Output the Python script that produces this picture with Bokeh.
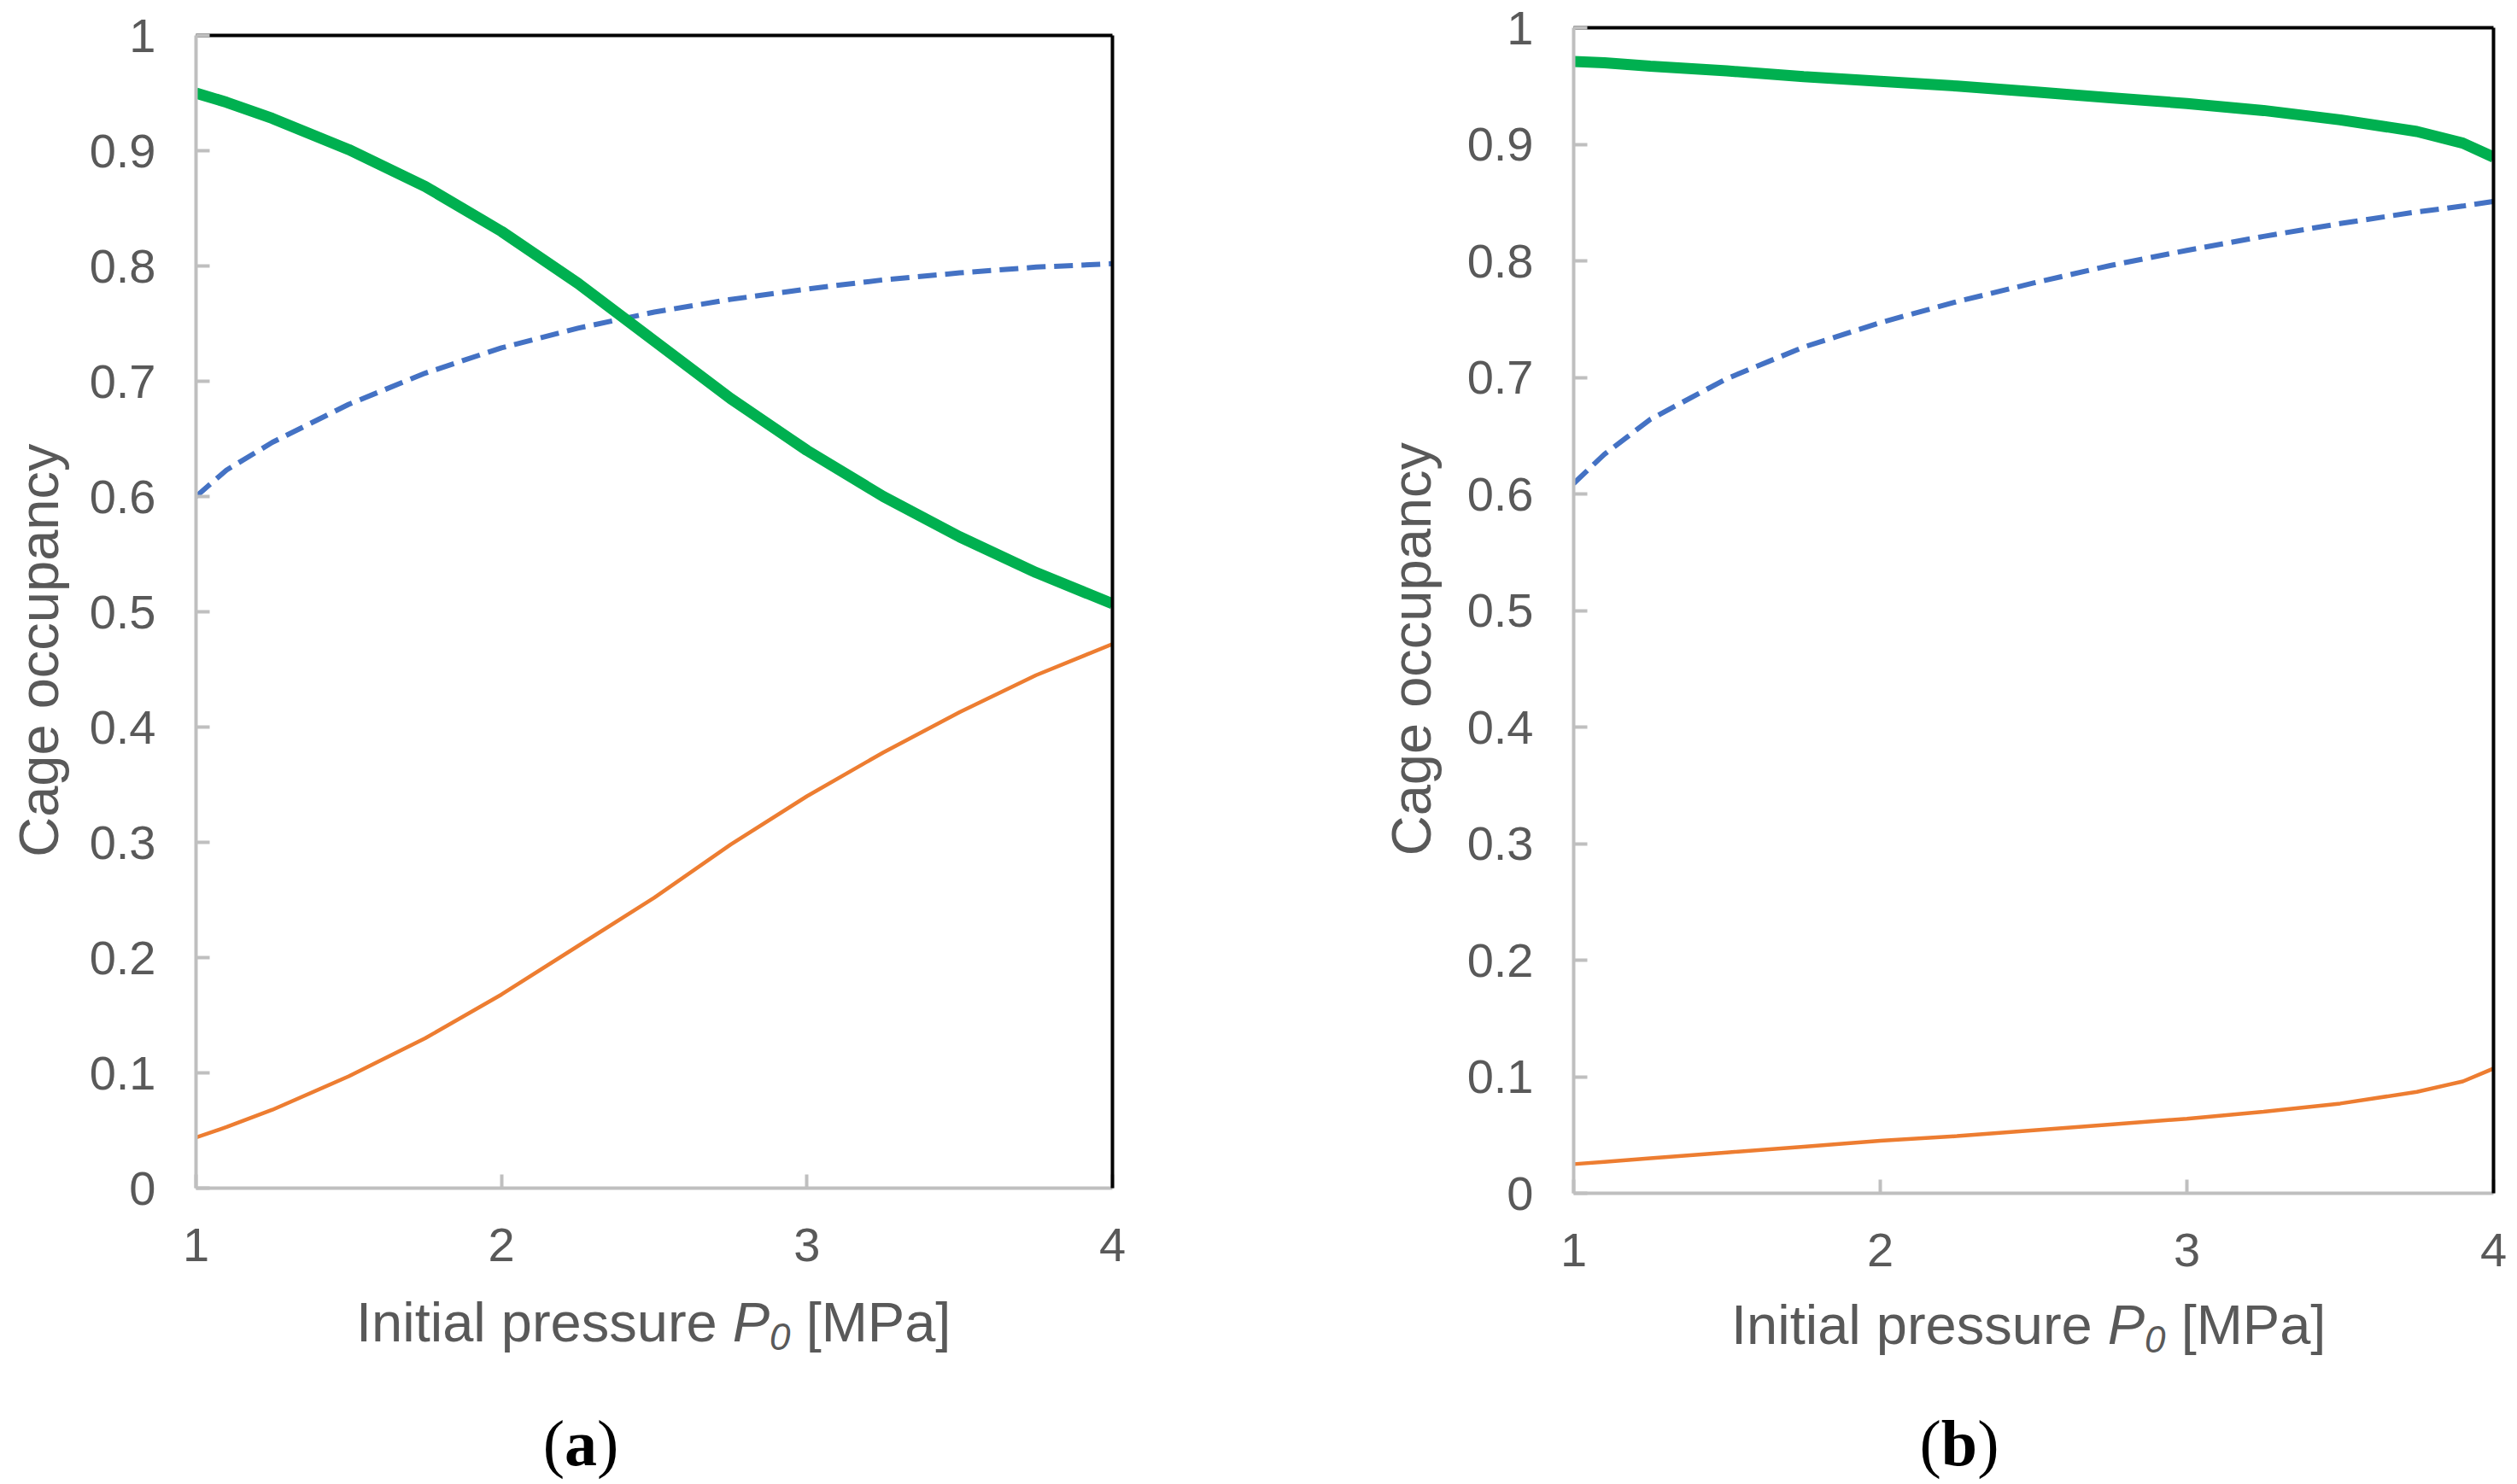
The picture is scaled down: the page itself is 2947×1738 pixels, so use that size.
from bokeh.plotting import figure
from bokeh.layouts import row, column
from bokeh.models import LinearAxis, FixedTicker, Range1d, Div
from bokeh.embed import file_html
from bokeh.resources import INLINE

# pressure grid [MPa] and cage occupancies
p0_a = [1.0, 1.1, 1.25, 1.5, 1.75, 2.0, 2.25, 2.5, 2.75, 3.0, 3.25, 3.5, 3.75, 4.0]
green_a = [0.950, 0.942, 0.928, 0.901, 0.869, 0.830, 0.785, 0.735, 0.685, 0.640, 0.600, 0.565, 0.534, 0.507]
blue_a = [0.600, 0.623, 0.647, 0.680, 0.707, 0.729, 0.746, 0.760, 0.771, 0.780, 0.788, 0.794, 0.799, 0.802]
orange_a = [0.044, 0.053, 0.068, 0.097, 0.130, 0.168, 0.210, 0.252, 0.298, 0.340, 0.378, 0.413, 0.445, 0.472]

p0_b = [1.0, 1.1, 1.25, 1.5, 1.75, 2.0, 2.25, 2.5, 2.75, 3.0, 3.25, 3.5, 3.75, 3.9, 4.0]
green_b = [0.971, 0.970, 0.967, 0.963, 0.958, 0.954, 0.950, 0.945, 0.940, 0.935, 0.929, 0.921, 0.911, 0.901, 0.889]
blue_b = [0.609, 0.634, 0.664, 0.699, 0.726, 0.747, 0.765, 0.781, 0.796, 0.809, 0.821, 0.832, 0.842, 0.847, 0.851]
orange_b = [0.025, 0.027, 0.030, 0.035, 0.040, 0.045, 0.049, 0.054, 0.059, 0.064, 0.070, 0.077, 0.087, 0.096, 0.107]

x_ticks = [1, 2, 3, 4]
y_ticks = [0, 0.1, 0.2, 0.3, 0.4, 0.5, 0.6, 0.7, 0.8, 0.9, 1]
y_tick_labels = ["0", "0.1", "0.2", "0.3", "0.4", "0.5", "0.6", "0.7", "0.8", "0.9", "1"]

GREEN = "#00B050"
BLUE = "#4472C4"
ORANGE = "#ED7D31"
GREY_TEXT = "#595959"
GREY_AXIS = "#BFBFBF"
FONT = "Liberation Sans"


def style_axis(ax):
    ax.axis_line_color = GREY_AXIS
    ax.axis_line_width = 4
    ax.major_tick_line_color = GREY_AXIS
    ax.major_tick_line_width = 4
    ax.major_tick_in = 16
    ax.major_tick_out = 0
    ax.minor_tick_line_color = None
    ax.major_label_text_font = FONT
    ax.major_label_text_font_size = "56px"
    ax.major_label_text_color = GREY_TEXT


def border_axis(p, side):
    ax = LinearAxis(ticker=FixedTicker(ticks=[]))
    ax.axis_line_color = "black"
    ax.axis_line_width = 4
    ax.major_tick_line_color = None
    ax.minor_tick_line_color = None
    p.add_layout(ax, side)


def caption(width, height, title_left, title_top, tag_center, tag_top, letter):
    # x-axis title (italic P, subscript 0) and the panel tag, as html text
    html = (
        f'<div style="position:relative;width:{width}px;height:{height}px;">'
        f'<span style="position:absolute;left:{title_left}px;top:{title_top}px;white-space:nowrap;'
        f"font-family:'Liberation Sans';font-size:65px;line-height:65px;color:{GREY_TEXT};\">"
        'Initial pressure <i>P</i><sub style="font-size:44px;font-style:italic;vertical-align:-10px;">0</sub>'
        ' [MPa]</span>'
        f'<div style="position:absolute;left:0px;top:{tag_top}px;width:{2 * tag_center}px;text-align:center;'
        "font-family:'Liberation Serif';font-size:76px;line-height:76px;color:black;\">"
        f'(<b>{letter}</b>)</div>'
        '</div>'
    )
    return Div(text=html, width=width, height=height, margin=0)


def make_panel(x, green, blue, orange, frame_w, frame_h, left, right, top, bottom, label_standoff):
    p = figure(frame_width=frame_w, frame_height=frame_h,
               min_border_left=left, min_border_right=right,
               min_border_top=top, min_border_bottom=bottom,
               x_range=Range1d(1, 4), y_range=Range1d(0, 1),
               toolbar_location=None, tools="", output_backend="svg")
    p.outline_line_color = None
    p.grid.grid_line_color = None
    p.background_fill_color = "white"
    p.border_fill_color = "white"

    xa = p.below[0]
    style_axis(xa)
    xa.ticker = FixedTicker(ticks=x_ticks)
    xa.major_label_standoff = 47

    ya = p.left[0]
    style_axis(ya)
    ya.ticker = FixedTicker(ticks=y_ticks)
    ya.major_label_overrides = dict(zip(y_ticks, y_tick_labels))
    ya.major_label_standoff = 47
    # trailing no-break spaces push the centred title a little below the frame middle
    ya.axis_label = "Cage occupancy" + "\u00a0" * 5
    ya.axis_label_text_font = FONT
    ya.axis_label_text_font_size = "65px"
    ya.axis_label_text_font_style = "normal"
    ya.axis_label_text_color = GREY_TEXT
    ya.axis_label_standoff = label_standoff

    border_axis(p, "above")
    border_axis(p, "right")

    p.line(x, orange, line_color=ORANGE, line_width=4.5)
    p.line(x, blue, line_color=BLUE, line_width=6, line_dash="22 10")
    p.line(x, green, line_color=GREEN, line_width=13)
    return p


pa = make_panel(p0_a, green_a, blue_a, orange_a, 1073, 1350, 229, 171, 41, 130, 20)
pb = make_panel(p0_b, green_b, blue_b, orange_b, 1077, 1365, 369, 18, 32, 124, 26)

ca = caption(1473, 215, 417, -5, 680, 131, "a")
cb = caption(1464, 215, 554, -2, 821, 131, "b")

layout = row(column(pa, ca), column(pb, cb))
open("out.html", "w").write(file_html(layout, INLINE))
